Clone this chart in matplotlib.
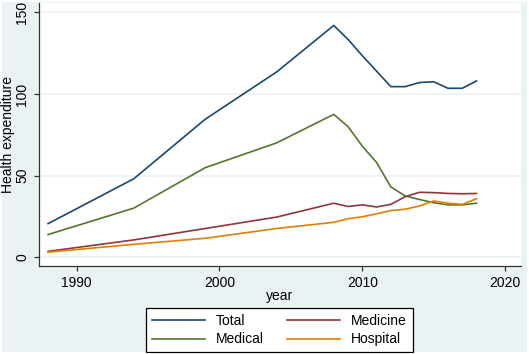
import numpy as np
import matplotlib.pyplot as plt
from matplotlib.patches import Rectangle

plt.rcParams['font.family'] = ['Liberation Sans', 'DejaVu Sans']

# %%
years = [1988, 1994, 1999, 2004, 2008, 2009, 2010, 2011, 2012, 2013, 2014, 2015, 2016, 2017, 2018]
total = [20.5, 48, 84.5, 113.5, 142, 133.5, 123.5, 114, 104.5, 104.5, 107, 107.5, 103.5, 103.5, 108]
medical = [13.8, 30, 54.8, 70, 87.5, 80, 68, 58, 43, 37.5, 35.3, 33.3, 32, 32, 33]
medicine = [3.5, 10.5, 17.5, 24.5, 33, 31, 32, 30.7, 32.3, 37, 39.7, 39.5, 39, 38.8, 39]
hospital = [3, 7.8, 11.5, 17.5, 21.3, 23.5, 24.7, 26.5, 28.5, 29.3, 31.3, 34.4, 33, 32.3, 35.8]

xticks = [1990, 2000, 2010, 2020]
yticks = [0, 50, 100, 150]

BG = '#EAF2F3'
COLORS = {'Total': '#1a476f', 'Medicine': '#90353b', 'Medical': '#55752f', 'Hospital': '#e37e00'}

# %%
fig = plt.figure(figsize=(5.29, 3.54), dpi=100, facecolor='white')
fig.patches.append(Rectangle((2 / 529, 2 / 354), 525 / 529, 350 / 354,
                             transform=fig.transFigure, facecolor=BG, edgecolor='none', zorder=-10))

ax = fig.add_axes([39 / 529, 1 - 266 / 354, (520.5 - 39) / 529, 263 / 354])
ax.set_facecolor('white')

series = [('Total', total), ('Medical', medical), ('Medicine', medicine), ('Hospital', hospital)]
handles = {}
for name, vals in series:
    h, = ax.plot(years, vals, color=COLORS[name], lw=1.2, label=name)
    handles[name] = h

ax.set_xlim(1987.36, 2021.08)
ax.set_ylim(-5.5, 155.8)
ax.set_xticks(xticks)
ax.set_yticks(yticks)
ax.set_yticklabels([str(v) for v in yticks], rotation=90, va='center')
for v in yticks:
    ax.axhline(v, color=BG, lw=1.2, zorder=0)

for s in ['top', 'right']:
    ax.spines[s].set_visible(False)
for s in ['left', 'bottom']:
    ax.spines[s].set_color('#333333')
    ax.spines[s].set_linewidth(0.9)
ax.tick_params(direction='out', length=3.6, width=0.9, color='#333333', labelsize=10, pad=3.5)

ax.set_xlabel('year', fontsize=10)
ax.xaxis.set_label_coords(0.5, -(296 - 266) / 263, transform=ax.transAxes)
ax.xaxis.label.set_va('center')
ax.set_ylabel('Health expenditure', fontsize=10, va='center')
ax.yaxis.set_label_coords((8 - 39) / 481.5, 0.5)

order = ['Total', 'Medical', 'Medicine', 'Hospital']
leg = fig.legend([handles[k] for k in order], order, loc='center',
                 bbox_to_anchor=(279.5 / 529, 1 - 330 / 354), ncol=2, fontsize=10,
                 frameon=True, fancybox=False, edgecolor='black', facecolor='white',
                 framealpha=1, handlelength=3.8, handletextpad=0.8, columnspacing=1.7,
                 labelspacing=0.35, borderpad=0.4)
leg.get_frame().set_linewidth(0.9)

plt.savefig('out.png', dpi=100, facecolor=fig.get_facecolor())
